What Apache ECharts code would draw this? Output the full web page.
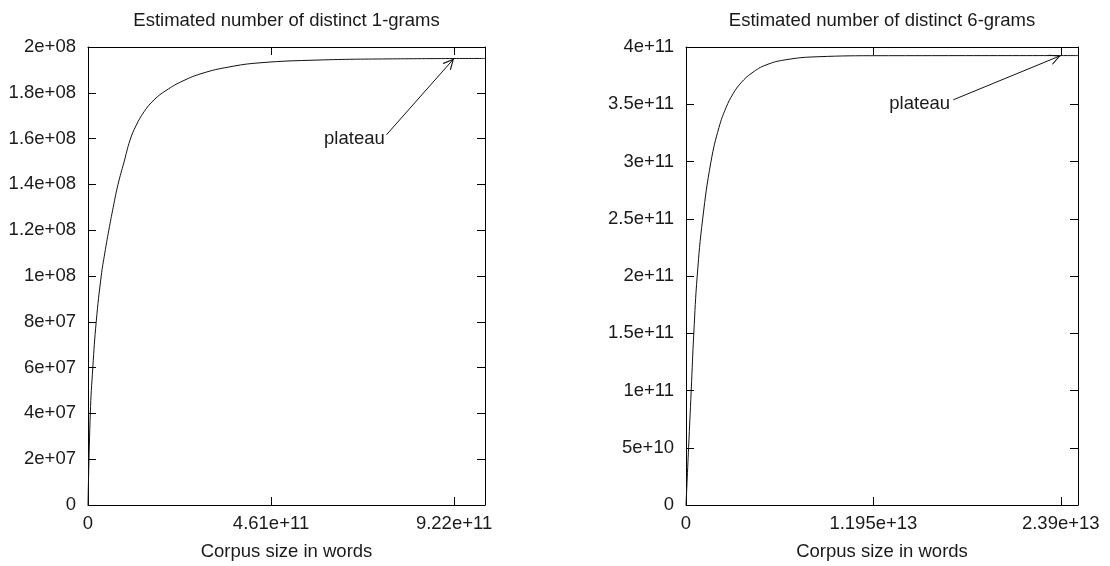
<!DOCTYPE html>
<html>
<head>
<meta charset="utf-8">
<script src="https://cdn.jsdelivr.net/npm/echarts@6/dist/echarts.min.js"></script>
<style>
  html, body { margin: 0; padding: 0; background: #fff; }
  #chart { width: 1110px; height: 566px; }
</style>
</head>
<body>
<div id="chart"></div>
<script>
// distinct 1-grams vs corpus size
const unigramX = [0, 5.8e9, 1.21e10, 2.07e10, 3.33e10, 4.23e10, 5.24e10, 6.35e10, 7.56e10, 9.07e10, 1.058e11, 1.209e11, 1.411e11, 1.663e11, 1.965e11, 2.393e11, 2.897e11, 3.527e11, 4.333e11, 5.794e11, 7.557e11, 1.0e12]
const unigramY = [0, 4e7, 6e7, 8e7, 1e8, 1.1e8, 1.2e8, 1.3e8, 1.4e8, 1.497e8, 1.593e8, 1.656e8, 1.717e8, 1.769e8, 1.81e8, 1.852e8, 1.886e8, 1.912e8, 1.931e8, 1.943e8, 1.948e8, 1.95e8]

// distinct 6-grams vs corpus size
const sixgramX = [0, 1.66e11, 3.32e11, 4.98e11, 7.15e11, 1.065e12, 1.595e12, 2.105e12, 2.552e12, 2.999e12, 3.509e12, 4.211e12, 5.104e12, 6.38e12, 8.42e12, 1.238e13, 2.5e13]
const sixgramY = [0, 5e10, 1e11, 1.5e11, 2e11, 2.5e11, 3e11, 3.298e11, 3.47e11, 3.591e11, 3.687e11, 3.774e11, 3.843e11, 3.889e11, 3.915e11, 3.924e11, 3.925e11]

const unigramXTicks = [0, 4.61e11, 9.22e11]
const sixgramXTicks = [0, 1.195e13, 2.39e13]

// annotation: label anchor, arrow start, arrow tip
const unigramNote = { label: [7.5e11, 1.6e8], from: [7.52e11, 1.617e8], to: [9.22e11, 1.95e8] }
const sixgramNote = { label: [1.69e13, 3.504e11], from: [1.705e13, 3.539e11], to: [2.39e13, 3.925e11] }

const FONT = 'Liberation Sans'
const FS = 18.5
const TXT = '#1a1a1a'

function sci(v) {
  if (v === 0) return '0'
  return v.toExponential().replace(/e([+-])(\d+)$/, function (m, s, d) {
    return 'e' + s + (d.length < 2 ? '0' + d : d)
  })
}

function zip(xs, ys) {
  return xs.map(function (x, i) { return [x, ys[i]] })
}

// open arrow head, tip sits at the symbol centre
const ARROW = 'path://M6,0 L6.05,0 L6,0.05 Z M0,24 L6,12 L12,24 L10.6,24 L6,14.6 L1.4,24 Z'

function axesFor(gridIndex, xMax, xTicks, yMax, yInterval) {
  const tick = function () {
    return { show: true, inside: true, length: 8, lineStyle: { color: '#000', width: 1 } }
  }
  const line = function () {
    return { show: true, onZero: false, lineStyle: { color: '#000', width: 1 } }
  }
  const label = { color: TXT, fontFamily: FONT, fontSize: FS }
  return {
    x: [{
      type: 'value', gridIndex: gridIndex, position: 'bottom', min: 0, max: xMax,
      axisLine: line(), splitLine: { show: false },
      axisTick: Object.assign({ customValues: xTicks }, tick()),
      axisLabel: Object.assign({ customValues: xTicks, margin: 9, formatter: sci }, label),
      name: 'Corpus size in words', nameLocation: 'middle', nameGap: 37,
      nameTextStyle: label
    }, {
      type: 'value', gridIndex: gridIndex, position: 'top', min: 0, max: xMax,
      axisLine: line(), splitLine: { show: false },
      axisTick: Object.assign({ customValues: xTicks }, tick()),
      axisLabel: { show: false }
    }],
    y: [{
      type: 'value', gridIndex: gridIndex, position: 'left', min: 0, max: yMax, interval: yInterval,
      axisLine: line(), splitLine: { show: false }, axisTick: tick(),
      axisLabel: Object.assign({ margin: 12, formatter: sci }, label)
    }, {
      type: 'value', gridIndex: gridIndex, position: 'right', min: 0, max: yMax, interval: yInterval,
      axisLine: line(), splitLine: { show: false }, axisTick: tick(),
      axisLabel: { show: false }
    }]
  }
}

function curve(name, axisBase, data, note) {
  return {
    name: name,
    type: 'line',
    xAxisIndex: axisBase,
    yAxisIndex: axisBase,
    data: data,
    showSymbol: false,
    smooth: 0.45,
    lineStyle: { color: '#111', width: 1 },
    silent: true,
    animation: false,
    markLine: {
      silent: true,
      symbol: ['none', ARROW],
      symbolSize: [11, 22],
      lineStyle: { color: '#111', width: 1, type: 'solid' },
      itemStyle: { color: '#111' },
      label: { show: false },
      data: [[{ coord: note.from }, { coord: note.to }]]
    },
    markPoint: {
      silent: true,
      symbol: 'circle',
      symbolSize: 0,
      label: {
        show: true, position: 'left', distance: 1, formatter: 'plateau',
        color: TXT, fontFamily: FONT, fontSize: FS
      },
      data: [{ coord: note.label }]
    }
  }
}

const left = axesFor(0, 1e12, unigramXTicks, 2e8, 2e7)
const right = axesFor(1, 2.5e13, sixgramXTicks, 4e11, 5e10)

const chart = echarts.init(document.getElementById('chart'), null, { renderer: 'canvas' })
chart.setOption({
  backgroundColor: '#fff',
  animation: false,
  title: [{
    text: 'Estimated number of distinct 1-grams',
    left: 286.5, top: 11, textAlign: 'center', padding: 0,
    textStyle: { color: TXT, fontFamily: FONT, fontSize: FS, fontWeight: 'normal' }
  }, {
    text: 'Estimated number of distinct 6-grams',
    left: 882, top: 11, textAlign: 'center', padding: 0,
    textStyle: { color: TXT, fontFamily: FONT, fontSize: FS, fontWeight: 'normal' }
  }],
  grid: [
    { left: 88, right: 625, top: 47, bottom: 59, containLabel: false },
    { left: 686, right: 32, top: 47, bottom: 59, containLabel: false }
  ],
  // axis order: grid0 bottom, grid1 bottom, grid0 top, grid1 top
  xAxis: [left.x[0], right.x[0], left.x[1], right.x[1]],
  yAxis: [left.y[0], right.y[0], left.y[1], right.y[1]],
  series: [
    curve('1-grams', 0, zip(unigramX, unigramY), unigramNote),
    curve('6-grams', 1, zip(sixgramX, sixgramY), sixgramNote)
  ]
})
</script>
</body>
</html>
